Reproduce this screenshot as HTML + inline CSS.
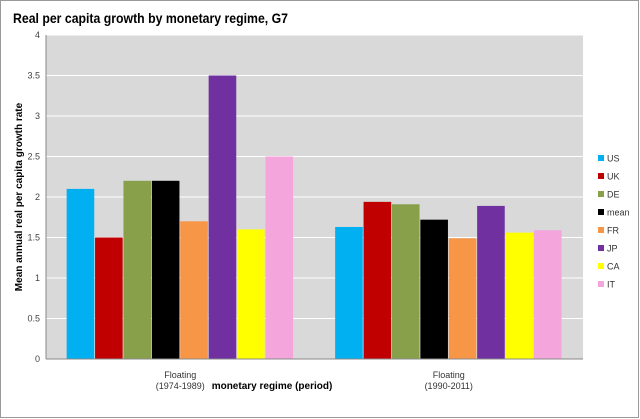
<!DOCTYPE html>
<html><head><meta charset="utf-8"><style>
body{margin:0;background:#fff;}
svg{display:block;font-family:"Liberation Sans",sans-serif;}
</style></head><body>
<svg id="c" width="640" height="419">
<rect x="0.5" y="0.5" width="638" height="417" fill="#fff" stroke="#999"/>
<text x="13" y="23" font-size="14" font-weight="bold" fill="#000" textLength="275" lengthAdjust="spacingAndGlyphs">Real per capita growth by monetary regime, G7</text>
<rect x="46" y="35" width="537" height="324" fill="#d9d9d9"/>
<g id="grid"></g><g id="bars"></g><g id="axes"></g><g id="legend"></g>
<text transform="translate(22,197) rotate(-90)" text-anchor="middle" font-size="10" font-weight="bold">Mean annual real per capita growth rate</text>
<text x="272" y="389" text-anchor="middle" font-size="10" font-weight="bold">monetary regime (period)</text>
</svg>
<script>
const categories=["Floating\n(1974-1989)","Floating\n(1990-2011)"];
const seriesNames=["US","UK","DE","mean","FR","JP","CA","IT"];
const colors=["#00b0f0","#c00000","#88a04a","#000000","#f79646","#7030a0","#ffff00","#f4a6dc"];
const values=[[2.1,1.63],[1.5,1.94],[2.2,1.91],[2.2,1.72],[1.7,1.49],[3.5,1.89],[1.6,1.56],[2.5,1.59]];
const yTicks=[0,0.5,1,1.5,2,2.5,3,3.5,4];
const NS="http://www.w3.org/2000/svg";
const x0=46,x1=583,yb=359,yt=35,ymax=4;
const y=v=>yb-(v/ymax)*(yb-yt);
const gw=(x1-x0)/categories.length;
const bw=28.4;
function mk(t,a,p){const e=document.createElementNS(NS,t);for(const k in a)e.setAttribute(k,a[k]);p.appendChild(e);return e;}
const grid=document.getElementById('grid'),bars=document.getElementById('bars'),axes=document.getElementById('axes'),leg=document.getElementById('legend');
yTicks.forEach(t=>{
 if(t>0){const l=mk('line',{x1:x0,x2:x1,y1:y(t),y2:y(t),stroke:'#fff','stroke-width':1},grid);
 }
 const tx=mk('text',{x:40,y:y(t)+3,'text-anchor':'end','font-size':'9',fill:'#444'},axes);tx.textContent=t;
 
});
const ax=mk('line',{x1:x0,x2:x0,y1:yt,y2:yb,stroke:'#888'},axes);

const bx=mk('line',{x1:x0,x2:x1,y1:yb,y2:yb,stroke:'#888'},axes);

categories.forEach((c,ci)=>{
 const cx=x0+gw*(ci+0.5);
 const start=cx-bw*seriesNames.length/2;
 seriesNames.forEach((s,si)=>{
  const v=values[si][ci];
  const r=mk('rect',{x:start+si*bw,y:y(v),width:bw-0.8,height:yb-y(v),fill:colors[si]},bars);
  
 });
 c.split('\n').forEach((ln,li)=>{
  const t=mk('text',{x:cx,y:378+li*11,'text-anchor':'middle','font-size':'9',fill:'#333'},axes);t.textContent=ln;
  
 });
});
seriesNames.forEach((s,si)=>{
 const yy=158+si*18;
 const r=mk('rect',{x:598,y:yy-3,width:6,height:6,fill:colors[si]},leg);
 
 const t=mk('text',{x:607,y:yy+3.5,'font-size':'9',fill:'#333'},leg);t.textContent=s;
 
});
</script>
</body></html>
